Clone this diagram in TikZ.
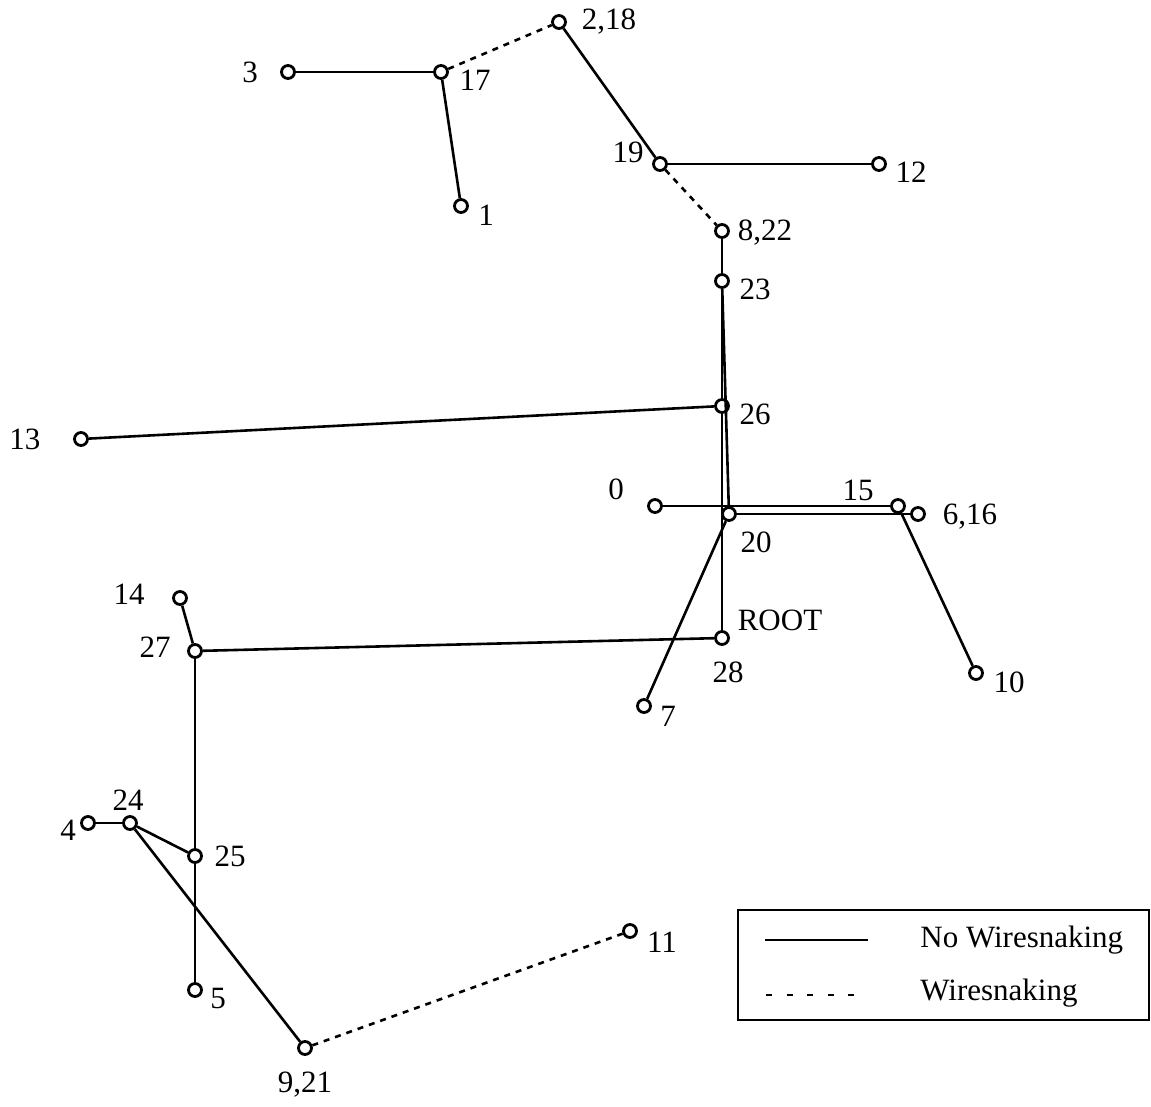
\documentclass[tikz,border=0pt]{standalone}
\usepackage{fontspec}
\setmainfont{Liberation Serif}
\tikzset{
  pt/.style={draw, circle, line width=1.4pt, minimum size=6.5pt, inner sep=0pt},
  lbl/.style={inner sep=0pt, font=\fontsize{15.5}{18}\selectfont},
  wire/.style={line width=1.3pt},
  snake/.style={line width=1.3pt, dash pattern=on 3pt off 3pt}
}
\begin{document}
\begin{tikzpicture}[x=0.5pt, y=-0.5pt]
        \useasboundingbox (0,0) rectangle (1151,1107);
        % points
        \node[pt] (n218) at (559,22) {};
        \node[pt] (n3) at (288,72) {};
        \node[pt] (n17) at (441,72) {};
        \node[pt] (n1) at (461,206) {};
        \node[pt] (n19) at (660,164) {};
        \node[pt] (n12) at (879,164) {};
        \node[pt] (n822) at (722,231) {};
        \node[pt] (n23) at (722,281) {};
        \node[pt] (n26) at (722,406) {};
        \node[pt] (n13) at (81,439) {};
        \node[pt] (n0) at (655,506) {};
        \node[pt] (n15) at (898,506) {};
        \node[pt] (n616) at (918,514) {};
        \node[pt] (n20) at (729,514) {};
        \node[pt] (n28) at (722,638) {};
        \node[pt] (n27) at (195,651) {};
        \node[pt] (n14) at (180,598) {};
        \node[pt] (n7) at (644,706) {};
        \node[pt] (n10) at (976,673) {};
        \node[pt] (n24) at (130,823) {};
        \node[pt] (n4) at (88,823) {};
        \node[pt] (n25) at (195,856) {};
        \node[pt] (n5) at (195,990) {};
        \node[pt] (n921) at (305,1048) {};
        \node[pt] (n11) at (630,931) {};
        % labels
        \node[lbl] (t218) at (609,22) {2,18};
        \node[lbl] (t3) at (250,72) {3};
        \node[lbl] (t17) at (475,80) {17};
        \node[lbl] (t1) at (486,215) {1};
        \node[lbl] (t19) at (628,152) {19};
        \node[lbl] (t12) at (911,172) {12};
        \node[lbl] (t822) at (765,233) {8,22};
        \node[lbl] (t23) at (755,289) {23};
        \node[lbl] (t26) at (755,414) {26};
        \node[lbl] (t13) at (25,439) {13};
        \node[lbl] (t0) at (616,489) {0};
        \node[lbl] (t15) at (858,490) {15};
        \node[lbl] (t616) at (970,517) {6,16};
        \node[lbl] (t20) at (756,542) {20};
        \node[lbl] (troot) at (780,620) {ROOT};
        \node[lbl] (t28) at (728,672) {28};
        \node[lbl] (t27) at (155,647) {27};
        \node[lbl] (t14) at (129,594) {14};
        \node[lbl] (t7) at (668,716) {7};
        \node[lbl] (t10) at (1009,682) {10};
        \node[lbl] (t24) at (128,800) {24};
        \node[lbl] (t4) at (68,830) {4};
        \node[lbl] (t25) at (230,856) {25};
        \node[lbl] (t5) at (218,998) {5};
        \node[lbl] (t921) at (305,1085) {9,21};
        \node[lbl] (t11) at (662,942) {11};
        % tree
        \draw[wire] (n3) -- (n17);
        \draw[wire] (n17) -- (n1);
        \draw[snake] (n17) -- (n218);
        \draw[wire] (n218) -- (n19);
        \draw[wire] (n19) -- (n12);
        \draw[snake] (n19) -- (n822);
        \draw[wire] (n822) -- (n23);
        \draw[wire] (n23) -- (n26);
        \draw[wire] (n26) -- (n28);
        \draw[wire] (n23) -- (n20);
        \draw[wire] (n26) -- (n13);
        \draw[wire] (n0) -- (n15);
        \draw[wire] (n20) -- (n616);
        \draw[wire] (n15) -- (n10);
        \draw[wire] (n20) -- (n7);
        \draw[wire] (n28) -- (n27);
        \draw[wire] (n27) -- (n14);
        \draw[wire] (n27) -- (n25);
        \draw[wire] (n25) -- (n5);
        \draw[wire] (n24) -- (n4);
        \draw[wire] (n24) -- (n25);
        \draw[wire] (n24) -- (n921);
        \draw[snake] (n921) -- (n11);
        % legend
        \node[draw, line width=1.3pt, minimum width=205.5pt, minimum height=55pt, inner sep=0pt] (key) at (943.5,965) {};
        \coordinate (a1) at (765,940);
        \coordinate (b1) at (868,940);
        \coordinate (a2) at (766,995);
        \coordinate (b2) at (860,995);
        \draw[wire] (a1) -- (b1);
        \draw[line width=1.3pt, dash pattern=on 3pt off 7.3pt] (a2) -- (b2);
        \node[lbl, anchor=west] (k1) at (920,940) {No Wiresnaking};
        \node[lbl, anchor=west] (k2) at (920,993) {Wiresnaking};
    \end{tikzpicture}
\end{document}
